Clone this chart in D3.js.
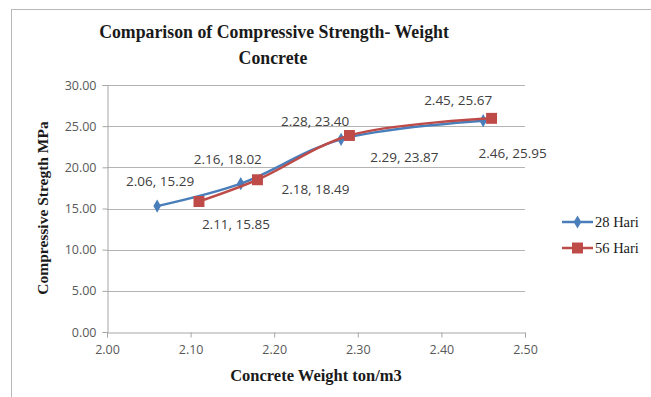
<!DOCTYPE html>
<html><head><meta charset="utf-8">
<script src="https://cdn.jsdelivr.net/npm/d3@7"></script>
<style>body{margin:0;background:#fff}svg{display:block}</style>
</head><body><svg id="c" width="651" height="397"></svg>
<script>
const xTicks = [2.00, 2.10, 2.20, 2.30, 2.40, 2.50];
const yTicks = [0, 5, 10, 15, 20, 25, 30];
const seriesNames = ["28 Hari", "56 Hari"];
const weight28 = [2.06, 2.16, 2.28, 2.45];
const strength28 = [15.29, 18.02, 23.40, 25.67];
const weight56 = [2.11, 2.18, 2.29, 2.46];
const strength56 = [15.85, 18.49, 23.87, 25.95];
// label offsets (layout only)
const labelOff28 = [[3,-20],[-13,-20],[-26,-13],[-25,-16]];
const labelOff56 = [[37,27],[58,14],[55,27],[21,40]];

const svg = d3.select("#c");
const x = d3.scaleLinear().domain([2.0, 2.5]).range([107, 525]);
const y = d3.scaleLinear().domain([0, 30]).range([332, 85]);

// outer chart border
svg.append("rect").attr("x", 11.5).attr("y", 9.5).attr("width", 700).attr("height", 420)
  .attr("fill", "none").attr("stroke", "#b8b8b8");

// gridlines
svg.append("g").selectAll("line").data(yTicks.filter(d => d > 0)).join("line")
  .attr("x1", 107).attr("x2", 525).attr("y1", d => Math.round(y(d)) + 0.5).attr("y2", d => Math.round(y(d)) + 0.5)
  .attr("stroke", "#b3b3b3").attr("stroke-width", 1);

// axes
const gy = svg.append("g").attr("transform", "translate(107.5,0)")
  .call(d3.axisLeft(y).tickValues(yTicks).tickFormat(d3.format(".2f")).tickSize(5).tickPadding(6));
const gx = svg.append("g").attr("transform", "translate(0,332.5)")
  .call(d3.axisBottom(x).tickValues(xTicks).tickFormat(d3.format(".2f")).tickSize(5).tickPadding(8));
[gx, gy].forEach(g => {
  g.selectAll("path.domain").attr("stroke", "#a6a6a6");
  g.selectAll(".tick line").attr("stroke", "#a6a6a6");
  g.selectAll(".tick text").attr("fill", "#595959").attr("font-family", "'Open Sans', sans-serif").attr("font-size", 12.5);
});

// titles
const title = svg.append("text").attr("text-anchor", "middle").attr("font-family", "'Liberation Serif', serif")
  .attr("font-weight", "bold").attr("font-size", 17.8).attr("fill", "#1a1a1a");
title.append("tspan").attr("x", 274).attr("y", 38).text("Comparison of Compressive Strength- Weight");
title.append("tspan").attr("x", 273).attr("y", 64).text("Concrete");

svg.append("text").attr("transform", "translate(48,208) rotate(-90)").attr("text-anchor", "middle")
  .attr("font-family", "'Liberation Serif', serif").attr("font-weight", "bold").attr("font-size", 15.5).attr("fill", "#1a1a1a")
  .text("Compressive Stregth MPa");
svg.append("text").attr("x", 316).attr("y", 381).attr("text-anchor", "middle")
  .attr("font-family", "'Liberation Serif', serif").attr("font-weight", "bold").attr("font-size", 16.5).attr("fill", "#1a1a1a")
  .text("Concrete Weight ton/m3");

const series = [
  {name: seriesNames[0], xs: weight28, ys: strength28, color: "#4a7ebb", sym: d3.symbolDiamond, size: 50, off: labelOff28},
  {name: seriesNames[1], xs: weight56, ys: strength56, color: "#be4b48", sym: d3.symbolSquare, size: 120, off: labelOff56}
];
const line = d3.line().x(d => x(d[0])).y(d => y(d[1])).curve(d3.curveCatmullRom.alpha(0.5));

series.forEach(s => {
  const pts = s.xs.map((v, i) => [v, s.ys[i]]);
  svg.append("path").datum(pts).attr("d", line).attr("fill", "none").attr("stroke", s.color).attr("stroke-width", 2.5);
  svg.append("g").selectAll("path").data(pts).join("path")
    .attr("transform", d => `translate(${x(d[0])},${y(d[1])})`)
    .attr("d", d3.symbol().type(s.sym).size(s.size)).attr("fill", s.color);
});
series.forEach(s => {
  const pts = s.xs.map((v, i) => [v, s.ys[i]]);
  svg.append("g").selectAll("text").data(pts).join("text")
    .attr("x", (d, i) => x(d[0]) + s.off[i][0]).attr("y", (d, i) => y(d[1]) + s.off[i][1])
    .attr("text-anchor", "middle").attr("font-family", "'Open Sans', sans-serif").attr("font-size", 13.5).attr("fill", "#404040")
    .text(d => d3.format(".2f")(d[0]) + ", " + d3.format(".2f")(d[1]));
});

// legend
series.forEach((s, i) => {
  const ly = 222 + i * 26;
  svg.append("line").attr("x1", 562).attr("x2", 593).attr("y1", ly).attr("y2", ly).attr("stroke", s.color).attr("stroke-width", 2.5);
  svg.append("path").attr("transform", `translate(577.5,${ly})`).attr("d", d3.symbol().type(s.sym).size(s.size)).attr("fill", s.color);
  svg.append("text").attr("x", 595).attr("y", ly + 5).attr("font-family", "'Liberation Serif', serif").attr("font-size", 14.5)
    .attr("fill", "#1a1a1a").text(s.name);
});
</script></body></html>
